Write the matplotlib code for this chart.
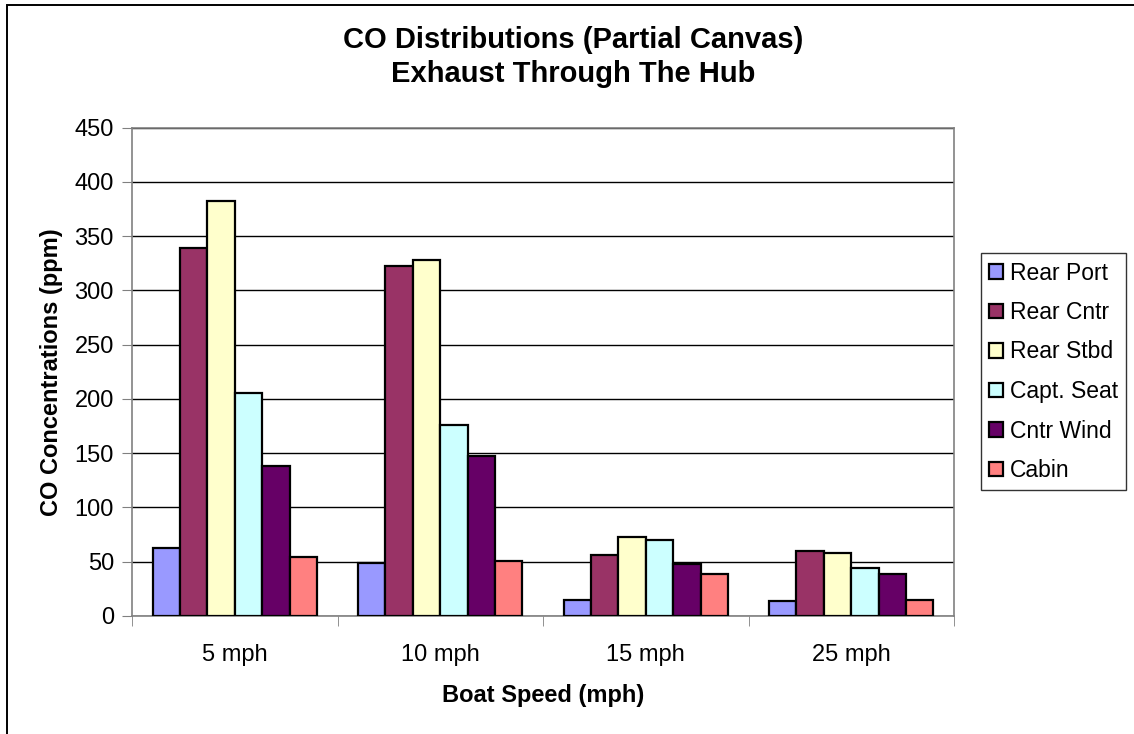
import numpy as np
import matplotlib
matplotlib.use("Agg")
import matplotlib.pyplot as plt
from matplotlib.patches import Rectangle

plt.rcParams["font.family"] = ["Liberation Sans", "DejaVu Sans"]

speeds = ["5 mph", "10 mph", "15 mph", "25 mph"]
locations = ["Rear Port", "Rear Cntr", "Rear Stbd", "Capt. Seat", "Cntr Wind", "Cabin"]
rear_port = [63, 49, 15, 14]
rear_cntr = [339, 322, 56, 60]
rear_stbd = [382, 328, 73, 58]
capt_seat = [205, 176, 70, 44]
cntr_wind = [138, 147, 48, 39]
cabin = [54, 51, 39, 15]
colors = ["#9999FF", "#993366", "#FFFFCC", "#CCFFFF", "#660066", "#FF8080"]

series = [rear_port, rear_cntr, rear_stbd, capt_seat, cntr_wind, cabin]

W, H = 1134, 734
fig = plt.figure(figsize=(W / 100, H / 100), dpi=100)
ax = fig.add_axes([132 / W, 1 - 616 / H, (954 - 132) / W, (616 - 127.5) / H])

# chart area border (right and bottom run off the canvas)
fig.patches.append(Rectangle((7 / W, -20 / H), 1150 / W, (H - 5 + 20) / H,
                             transform=fig.transFigure, fill=False,
                             edgecolor="black", linewidth=1.4))

x = np.arange(len(speeds))
width = 1 / 7.5
for i, (vals, name, c) in enumerate(zip(series, locations, colors)):
    offs = (i - 2.5) * width
    ax.bar(x + offs, vals, width, color=c, edgecolor="black", linewidth=1.6,
           label=name, zorder=3)

ax.set_xlim(-0.5, len(speeds) - 0.5)
ax.set_ylim(0, 450)
ax.set_yticks(range(0, 451, 50))
ax.yaxis.grid(True, color="black", linewidth=1.0, zorder=0)
ax.set_axisbelow(True)

ax.set_xticks(x)
ax.set_xticklabels(speeds, fontsize=17)
ax.set_xticks(np.arange(-0.5, len(speeds), 1), minor=True)
ax.tick_params(axis="x", which="major", length=0, pad=20)
ax.tick_params(axis="x", which="minor", length=7, direction="out", color="#808080")
ax.tick_params(axis="y", length=7, direction="out", color="#808080", labelsize=17, pad=6)

for s in ax.spines.values():
    s.set_color("#808080")
    s.set_linewidth(1.2)

ax.set_xlabel("Boat Speed (mph)", fontsize=17, fontweight="bold", labelpad=13)
ax.set_ylabel("CO Concentrations (ppm)", fontsize=17, fontweight="bold", labelpad=8)

fig.text(573 / W, 1 - 57 / H, "CO Distributions (Partial Canvas)\nExhaust Through The Hub",
         ha="center", va="center", fontsize=21, fontweight="bold", linespacing=1.25)

leg = ax.legend(loc="center left", bbox_to_anchor=(1.033, 0.5), fontsize=16.5,
                frameon=True, fancybox=False, edgecolor="black", handlelength=0.6,
                handleheight=0.6, handletextpad=0.3, labelspacing=0.72,
                borderpad=0.35, borderaxespad=0)
leg.get_frame().set_linewidth(1.0)

plt.savefig("out.png", dpi=100)
